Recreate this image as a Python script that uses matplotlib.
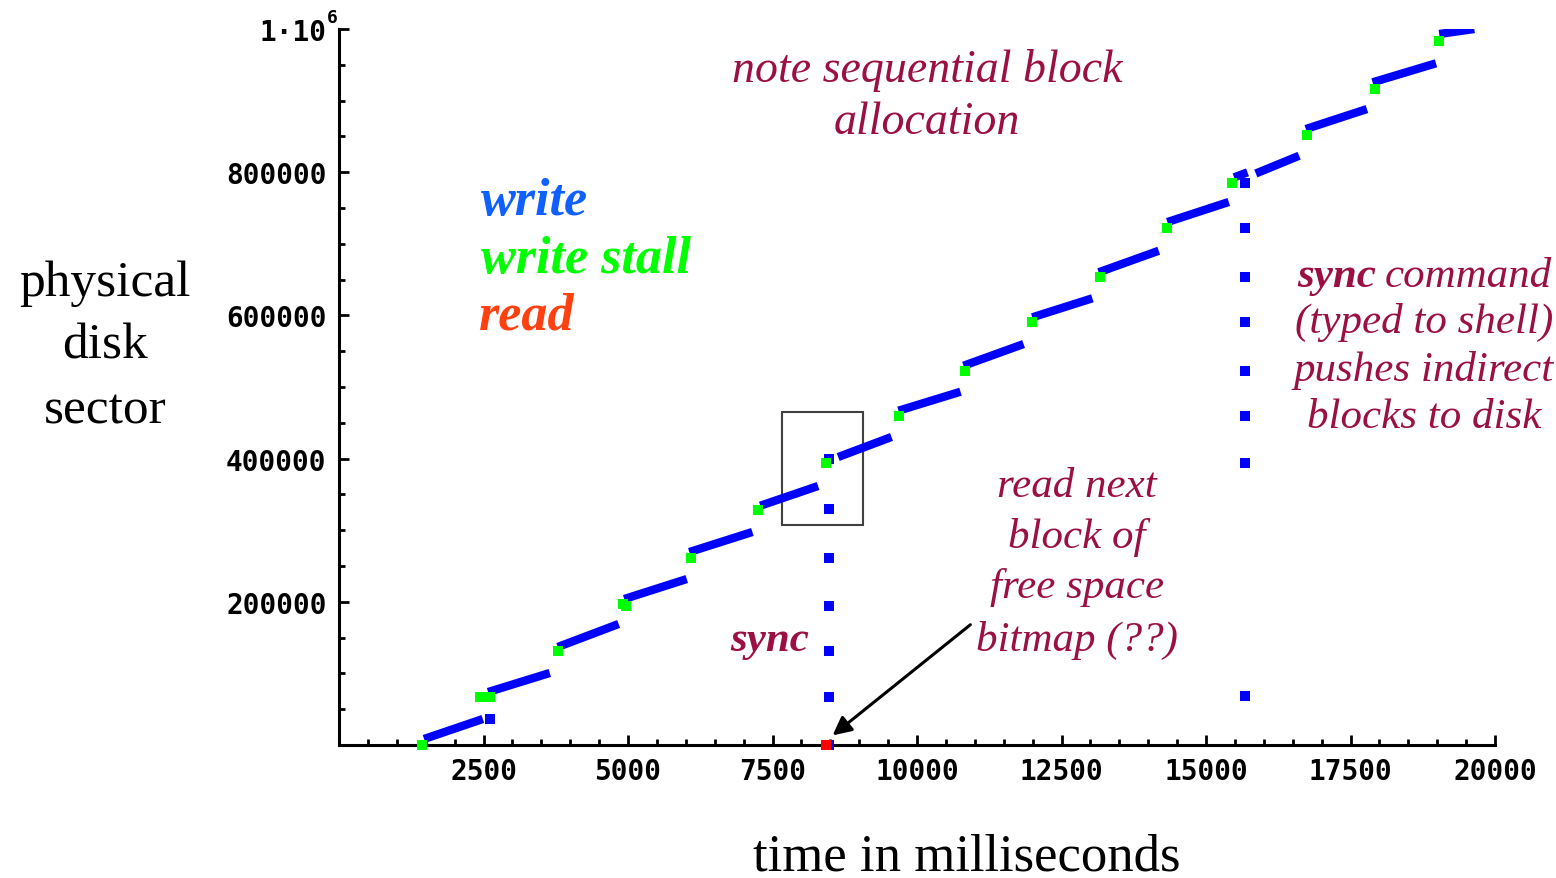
import matplotlib
matplotlib.use('Agg')
import matplotlib.pyplot as plt
from matplotlib.patches import Rectangle

# write runs: start/end time (ms) and start/end sector
seg_t0 = [1472, 2580, 3785, 4935, 6061, 7290, 8636, 9680, 10805, 11995, 13143, 14332, 15486, 15862, 16727, 17882, 19035]
seg_t1 = [2488, 3647, 4838, 6017, 7152, 8289, 9559, 10753, 11844, 13034, 14182, 15394, 15718, 16611, 17784, 18979, 19642]
seg_s0 = [8400, 74000, 136900, 203900, 269500, 334200, 402200, 466900, 529700, 597300, 660200, 730400, 792800, 798200, 860300, 925500, 993000]
seg_s1 = [36300, 100600, 169000, 231800, 297500, 361700, 430200, 493400, 560000, 623900, 690300, 758400, 799800, 823000, 888200, 952100, 1000000]

# write stalls
stall_t = [1437, 2445, 2615, 3785, 4915, 4960, 6085, 7255, 8433, 9697, 10823, 11995, 13160, 14332, 15458, 16739, 17922, 19035]
stall_s = [0, 67500, 67500, 131300, 196800, 194200, 261200, 328600, 393800, 459900, 522800, 591200, 654000, 721600, 784900, 851900, 916200, 983600]

# single writes (stray + the two syncs)
stray_t = [2615]
stray_s = [36300]
sync1_t = 8485
sync1_s = [399400, 329600, 261200, 194500, 131300, 67500, 0]
sync2_t = 15671
sync2_s = [784900, 721600, 654000, 591200, 522800, 459900, 393400, 68400]

# reads
read_t = [8433]
read_s = [0]

xticks = [2500, 5000, 7500, 10000, 12500, 15000, 17500, 20000]
yticks = [200000, 400000, 600000, 800000, 1000000]
ylabels = ['200000', '400000', '600000', '800000', '1·10']

W, H = 1556, 879
fig = plt.figure(figsize=(W / 100, H / 100), dpi=100)
ax = fig.add_axes([339 / W, 1 - 746 / H, (1495 - 339) / W, (746 - 30) / H])

BLUE = '#0000ff'
for t0, t1, s0, s1 in zip(seg_t0, seg_t1, seg_s0, seg_s1):
    ax.plot([t0, t1], [s0, s1], color=BLUE, lw=6, solid_capstyle='butt', zorder=3)

mk = dict(marker='s', ms=6.5, mew=0, ls='none', clip_on=False, zorder=5)
ax.plot(stray_t, stray_s, color=BLUE, **mk)
ax.plot([sync1_t] * len(sync1_s), sync1_s, color=BLUE, **mk)
ax.plot([sync2_t] * len(sync2_s), sync2_s, color=BLUE, **mk)
ax.plot(stall_t, stall_s, color='#00ff00', **mk)
ax.plot(read_t, read_s, color='#ff0000', **mk)

# zoom box around the first sync
ax.add_patch(Rectangle((7670, 307700), 1390, 157000, fill=False, ec='#404040', lw=1.5, zorder=2))

ax.annotate('', xy=(8502, 11000), xytext=(10961, 170400),
            arrowprops=dict(arrowstyle='-|>', color='black', lw=2.2, mutation_scale=28))

ax.set_xlim(0, 20000)
ax.set_ylim(0, 1000000)
ax.set_xticks(xticks)
ax.set_xticklabels([str(v) for v in xticks])
ax.set_xticks(range(500, 20000, 500), minor=True)
ax.set_yticks(yticks)
ax.set_yticklabels(ylabels)
ax.set_yticks(range(50000, 1000000, 50000), minor=True)

for s in ['top', 'right']:
    ax.spines[s].set_visible(False)
for s in ['left', 'bottom']:
    ax.spines[s].set_linewidth(2.2)

ax.tick_params(which='major', direction='in', length=7, width=2, pad=9)
ax.tick_params(which='minor', direction='in', length=4, width=2)
for lab in ax.get_xticklabels() + ax.get_yticklabels():
    lab.set_family('DejaVu Sans Mono')
    lab.set_fontweight('bold')
    lab.set_fontsize(20)

def pos(x, y):
    return x / W, 1 - y / H

serif = 'Liberation Serif'
crimson = '#9b1042'

fig.text(*pos(327, 18), '6', family='DejaVu Sans Mono', fontweight='bold', fontsize=13,
         ha='left', va='center')

fig.text(*pos(105, 296), 'physical', family=serif, fontsize=37, ha='center', va='baseline')
fig.text(*pos(105, 359), 'disk', family=serif, fontsize=37, ha='center', va='baseline')
fig.text(*pos(105, 423), 'sector', family=serif, fontsize=37, ha='center', va='baseline')
fig.text(*pos(967, 871), 'time in milliseconds', family=serif, fontsize=38, ha='center', va='baseline')

fig.text(*pos(927, 82), 'note sequential block', family=serif, style='italic', fontsize=33,
         color=crimson, ha='center', va='baseline')
fig.text(*pos(927, 134), 'allocation', family=serif, style='italic', fontsize=33,
         color=crimson, ha='center', va='baseline')

leg = dict(family=serif, style='italic', fontweight='bold', fontsize=37.5, ha='left', va='baseline')
fig.text(*pos(481, 215), 'write', color='#1060ff', **leg)
fig.text(*pos(481, 273), 'write stall', color='#00ff00', **leg)
fig.text(*pos(479, 330), 'read', color='#ff4010', **leg)

note = dict(family=serif, style='italic', fontsize=31, color=crimson, va='baseline')
fig.text(*pos(770, 651), 'sync', fontweight='bold', ha='center', **note)
fig.text(*pos(1077, 497), 'read next', ha='center', **note)
fig.text(*pos(1077, 548), 'block of', ha='center', **note)
fig.text(*pos(1077, 598), 'free space', ha='center', **note)
fig.text(*pos(1077, 651), 'bitmap (??)', ha='center', **note)

fig.text(*pos(1297, 287), 'sync', fontweight='bold', ha='left', **note)
fig.text(*pos(1552, 287), 'command', ha='right', **note)
fig.text(*pos(1424, 333), '(typed to shell)', ha='center', **note)
fig.text(*pos(1424, 381), 'pushes indirect', ha='center', **note)
fig.text(*pos(1424, 428), 'blocks to disk', ha='center', **note)

fig.savefig('out.png', dpi=100)
